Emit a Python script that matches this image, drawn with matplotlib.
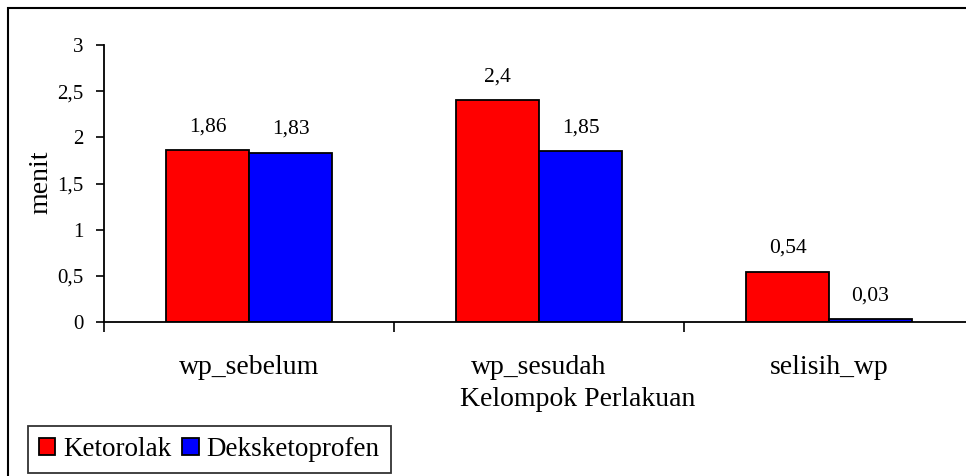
import numpy as np
import matplotlib
matplotlib.use("Agg")
import matplotlib.pyplot as plt
from matplotlib.patches import Rectangle

# data
kategori = ["wp_sebelum", "wp_sesudah", "selisih_wp"]
ketorolak = [1.86, 2.4, 0.54]
deksketoprofen = [1.83, 1.85, 0.03]
label_ketorolak = ["1,86", "2,4", "0,54"]
label_dekske = ["1,83", "1,85", "0,03"]
ytick_vals = [0, 0.5, 1, 1.5, 2, 2.5, 3]
ytick_labels = ["0", "0,5", "1", "1,5", "2", "2,5", "3"]

plt.rcParams["font.family"] = ["Liberation Serif", "DejaVu Serif"]

W, H = 966, 476
fig = plt.figure(figsize=(W / 100, H / 100), dpi=100)
ax = fig.add_axes([104 / W, 1 - 322 / H, (974 - 104) / W, (322 - 45) / H])

x = np.arange(len(kategori)) + 0.5
lebar = 83 / 290
b1 = ax.bar(x - lebar / 2, ketorolak, lebar, color="#ff0000", edgecolor="black", linewidth=1.3, label="Ketorolak")
b2 = ax.bar(x + lebar / 2, deksketoprofen, lebar, color="#0000ff", edgecolor="black", linewidth=1.3, label="Deksketoprofen")

for xi, v, t in zip(x - lebar / 2, ketorolak, label_ketorolak):
    ax.annotate(t, (xi, v), xytext=(0, 17), textcoords="offset points", ha="center", va="center", fontsize=15.5)
for xi, v, t in zip(x + lebar / 2, deksketoprofen, label_dekske):
    ax.annotate(t, (xi, v), xytext=(0, 17), textcoords="offset points", ha="center", va="center", fontsize=15.5)

ax.set_xlim(0, 3)
ax.set_ylim(0, 3)
ax.set_yticks(ytick_vals)
ax.set_yticklabels(ytick_labels, fontsize=15)
ax.set_xticks([0, 1, 2, 3])
ax.set_xticklabels([])
ax.set_xticks(x, minor=True)
ax.set_xticklabels(kategori, minor=True, fontsize=20)
ax.tick_params(axis="x", which="minor", length=0, pad=24)
ax.tick_params(axis="x", which="major", direction="out", length=7, width=1.2)
ax.tick_params(axis="y", direction="out", length=6, width=1.2, pad=9)
for s in ["top", "right"]:
    ax.spines[s].set_visible(False)
ax.spines["left"].set_linewidth(1.3)
ax.spines["bottom"].set_linewidth(1.3)

fig.text(41 / W, 1 - 182 / H, "menit", rotation=90, ha="center", va="center", fontsize=20)
fig.text(578 / W, 1 - 400 / H, "Kelompok Perlakuan", ha="center", va="center", fontsize=20)

# bingkai luar
fig.patches.append(Rectangle((8 / W, -0.1), 1.2, 1.1 - 8 / H, transform=fig.transFigure,
                             fill=False, edgecolor="black", linewidth=1.5, clip_on=False))

leg = fig.legend(handles=[b1, b2], loc="upper left", bbox_to_anchor=(28 / W, 1 - 426 / H),
                 ncol=2, fontsize=19.5, frameon=True, fancybox=False, edgecolor="black",
                 handlelength=0.6, handleheight=0.6, handletextpad=0.3, columnspacing=0.4,
                 borderpad=0.4, borderaxespad=0)
leg.get_frame().set_linewidth(1.3)

fig.savefig("out.png", dpi=100)
